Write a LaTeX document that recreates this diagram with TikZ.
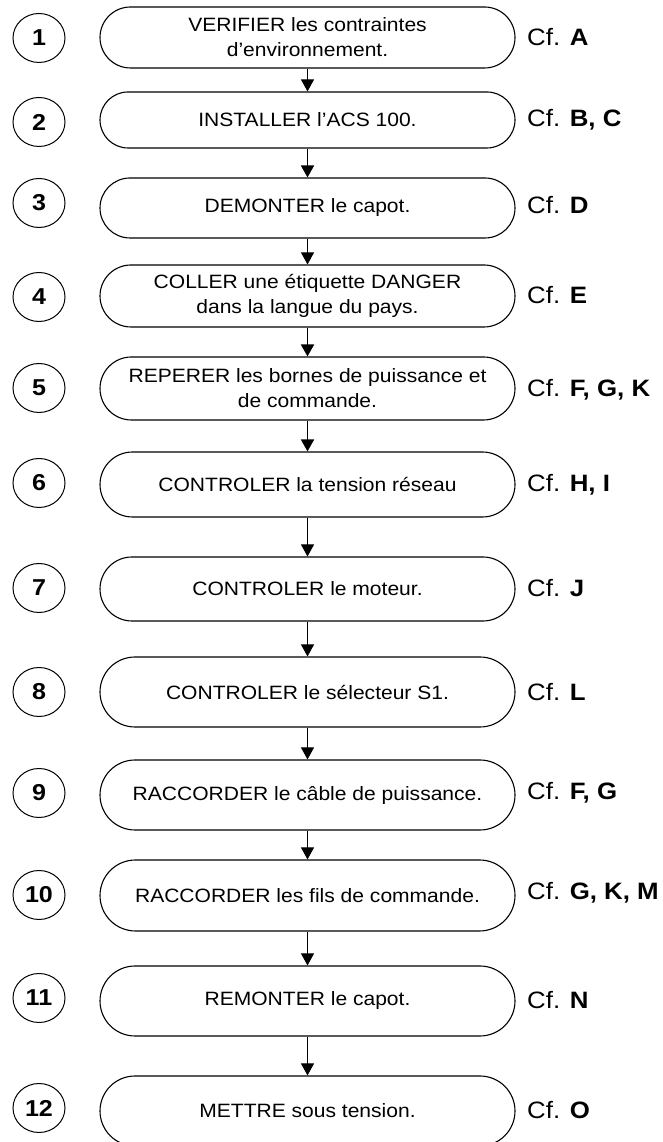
\documentclass[tikz,border=0pt]{standalone}
\usepackage{fontspec}
\setmainfont{Liberation Sans}
\newfontfamily\stretchfont{Liberation Sans}[FakeStretch=1.09]
\usetikzlibrary{arrows.meta,shapes.misc,shapes.geometric}
\tikzset{
  stepbox/.style={draw, line width=1.1pt, rounded rectangle, rounded rectangle arc length=180,
    minimum width=415pt, inner sep=0pt, align=center, font=\stretchfont\fontsize{19.3}{25}\selectfont},
  numcircle/.style={draw, line width=1pt, ellipse, minimum width=52pt, minimum height=49pt, inner sep=0pt,
    font=\stretchfont\fontsize{23}{24}\selectfont\bfseries},
  cflabel/.style={anchor=west, inner sep=0pt, font=\stretchfont\fontsize{23.7}{28}\selectfont},
  arr/.style={line width=1pt, -{Triangle[width=13pt,length=12pt]}},
  arrthick/.style={line width=1.8pt, -{Triangle[width=13pt,length=12pt]}}
}
\begin{document}
\begin{tikzpicture}[x=1pt,y=1pt]
\useasboundingbox (0,0) rectangle (662,1142);
\clip (0,0) rectangle (662,1142);
% boxes
\node[stepbox, minimum height=61pt] (b1) at (307.5,1104.5) {VERIFIER les contraintes\\d’environnement.};
\node[stepbox, minimum height=56pt] (b2) at (307.5,1022) {INSTALLER l’ACS 100.};
\node[stepbox, minimum height=60pt] (b3) at (307.5,934) {DEMONTER le capot.};
\node[stepbox, minimum height=62pt] (b4) at (307.5,846) {COLLER une étiquette DANGER\\dans la langue du pays.};
\node[stepbox, minimum height=63pt] (b5) at (307.5,753.5) {REPERER les bornes de puissance et\\de commande.};
\node[stepbox, minimum height=65pt] (b6) at (307.5,657.5) {CONTROLER la tension réseau};
\node[stepbox, minimum height=64pt] (b7) at (307.5,553) {CONTROLER le moteur.};
\node[stepbox, minimum height=70pt] (b8) at (307.5,450) {CONTROLER le sélecteur S1.};
\node[stepbox, minimum height=70pt] (b9) at (307.5,347) {RACCORDER le câble de puissance.};
\node[stepbox, minimum height=71pt] (b10) at (307.5,246.5) {RACCORDER les fils de commande.};
\node[stepbox, minimum height=70pt] (b11) at (307.5,141) {REMONTER le capot.};
\node[stepbox, minimum height=70pt] (b12) at (307.5,31) {METTRE sous tension.};
% circles
\node[numcircle] (n1) at (39,1104) {1};
\node[numcircle] (n2) at (39,1020) {2};
\node[numcircle] (n3) at (39,939) {3};
\node[numcircle] (n4) at (39,845) {4};
\node[numcircle] (n5) at (39,754) {5};
\node[numcircle] (n6) at (39,659) {6};
\node[numcircle] (n7) at (39,554) {7};
\node[numcircle] (n8) at (39,450) {8};
\node[numcircle] (n9) at (39,349) {9};
\node[numcircle] (n10) at (39,247) {10};
\node[numcircle] (n11) at (39,144) {11};
\node[numcircle] (n12) at (39,34) {12};
% references
\node[cflabel] (c1) at (527,1105) {Cf. \textbf{A}};
\node[cflabel] (c2) at (527,1022) {Cf. \textbf{B, C}};
\node[cflabel] (c3) at (527,937) {Cf. \textbf{D}};
\node[cflabel] (c4) at (527,847) {Cf. \textbf{E}};
\node[cflabel] (c5) at (527,752) {Cf. \textbf{F, G, K}};
\node[cflabel] (c6) at (527,657) {Cf. \textbf{H, I}};
\node[cflabel] (c7) at (527,554) {Cf. \textbf{J}};
\node[cflabel] (c8) at (527,450) {Cf. \textbf{L}};
\node[cflabel] (c9) at (527,349) {Cf. \textbf{F, G}};
\node[cflabel] (c10) at (527,249) {Cf. \textbf{G, K, M}};
\node[cflabel] (c11) at (527,142) {Cf. \textbf{N}};
\node[cflabel] (c12) at (527,32) {Cf. \textbf{O}};
% arrows
\draw[arr] (b1.south) -- (b2.north);
\draw[arrthick] (b2.south) -- (b3.north);
\draw[arr] (b3.south) -- (b4.north);
\draw[arrthick] (b4.south) -- (b5.north);
\draw[arrthick] (b5.south) -- (b6.north);
\draw[arr] (b6.south) -- (b7.north);
\draw[arr] (b7.south) -- (b8.north);
\draw[arr] (b8.south) -- (b9.north);
\draw[arr] (b9.south) -- (b10.north);
\draw[arr] (b10.south) -- (b11.north);
\draw[arr] (b11.south) -- (b12.north);
\end{tikzpicture}
\end{document}
